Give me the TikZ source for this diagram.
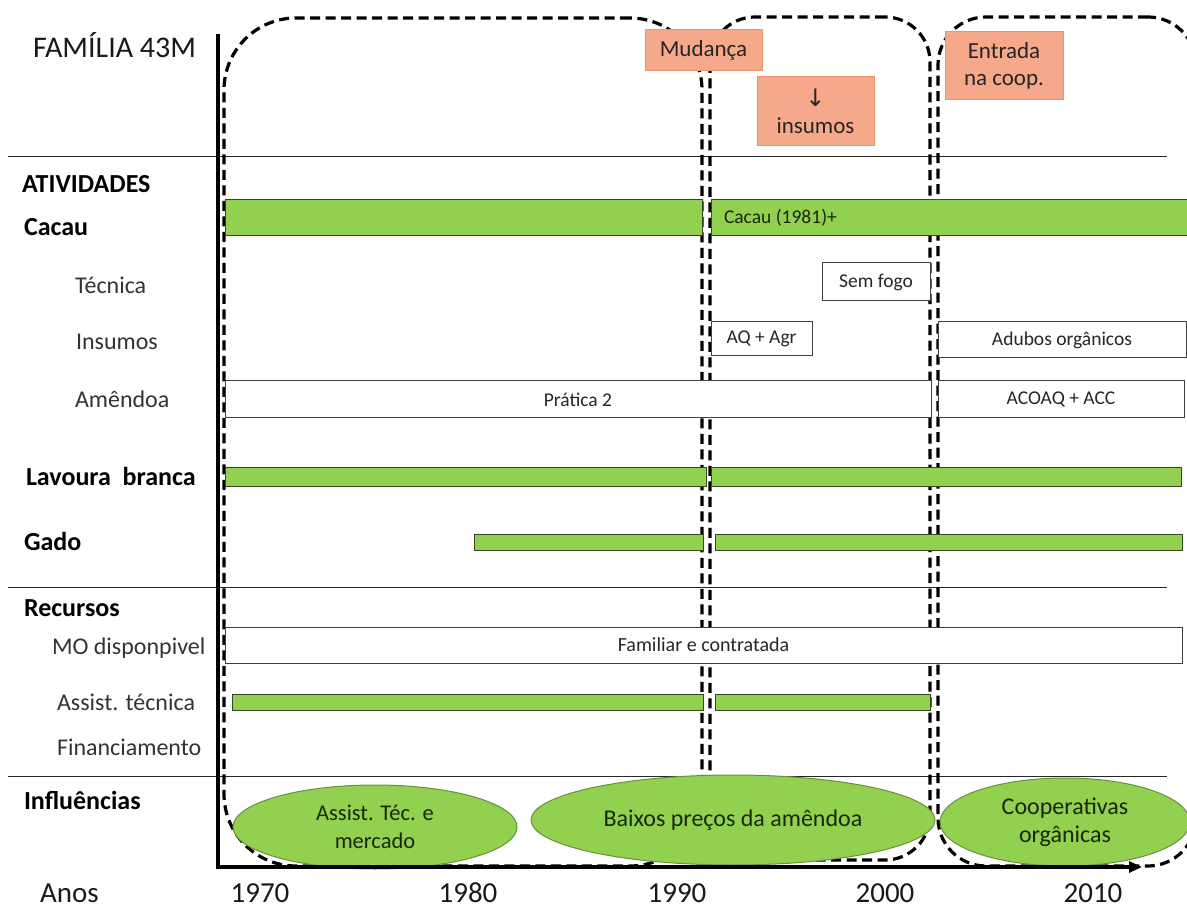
\documentclass[tikz,border=0pt]{standalone}
\usepackage{fontspec}
\setmainfont{Carlito}
\newfontfamily\arrowfont{DejaVu Sans}
\usetikzlibrary{shapes.geometric,arrows.meta}

\definecolor{bargreen}{RGB}{146,208,80}
\definecolor{baredge}{RGB}{55,70,40}
\definecolor{ellipseedge}{RGB}{105,145,60}
\definecolor{salmon}{RGB}{245,168,138}
\definecolor{salmonedge}{RGB}{236,145,105}
\definecolor{greentext}{RGB}{25,40,12}

\begin{document}
\begin{tikzpicture}[x=1pt,y=-1pt,
  every node/.style={inner sep=0pt, outer sep=0pt},
  rowline/.style={line width=0.9pt, black!85},
  phasebox/.style={draw, line width=3.2pt, dash pattern=on 10pt off 5.5pt, anchor=north west},
  axisline/.style={line width=3.2pt, black},
  greenbar/.style={draw=baredge, line width=1pt, fill=bargreen, anchor=north west},
  whitebox/.style={draw=black!75, line width=1pt, fill=white, anchor=north west,
    font=\fontsize{19.5}{22}\selectfont, text=black!85},
  bartext/.style={font=\fontsize{19.5}{22}\selectfont, text=greentext, anchor=west},
  eventbox/.style={draw=salmonedge, line width=1pt, fill=salmon, anchor=north west,
    font=\fontsize{23}{27}\selectfont, text=black!85, align=center},
  influence/.style={ellipse, draw=ellipseedge, line width=1pt, fill=bargreen,
    text=greentext, align=center},
  headlabel/.style={font=\fontsize{26}{30}\selectfont\bfseries, anchor=west, text=black},
  sublabel/.style={font=\fontsize{24}{28}\selectfont, anchor=west, text=black!80},
  yearlabel/.style={font=\fontsize{29}{32}\selectfont, text=black!90}
]
\useasboundingbox (0,0) rectangle (1187,909);

% horizontal row separators
\coordinate (sepA1) at (8,156);   \coordinate (sepA2) at (1167,156);
\coordinate (sepB1) at (8,587);   \coordinate (sepB2) at (1167,587);
\coordinate (sepC1) at (8,776);   \coordinate (sepC2) at (1167,776);
\draw[rowline] (sepA1) -- (sepA2);
\draw[rowline] (sepB1) -- (sepB2);
\draw[rowline] (sepC1) -- (sepC2);

% dashed periods
\node[phasebox, rounded corners=72pt, minimum width=478pt, minimum height=848pt] (period1) at (224,18) {};
\node[phasebox, rounded corners=45pt, minimum width=220pt, minimum height=843pt] (period2) at (710,17) {};
\node[phasebox, rounded corners=48pt, minimum width=258pt, minimum height=849pt] (period3) at (938,17) {};

% Cacau
\node[greenbar, minimum width=477pt, minimum height=36pt] (cacauA) at (225,200) {};
\node[greenbar, minimum width=478pt, minimum height=36pt,
  label={[bartext, anchor=west, xshift=13pt]west:Cacau (1981)+}] (cacauB) at (711,200) {};
% Técnica
\node[whitebox, minimum width=108pt, minimum height=38pt] (semfogo) at (822,263) {Sem fogo};
% Insumos
\node[whitebox, minimum width=101pt, minimum height=34pt] (aqagr) at (711,322) {AQ + Agr};
\node[whitebox, minimum width=248pt, minimum height=36pt] (adubos) at (938,322) {Adubos orgânicos};
% Amêndoa
\node[whitebox, minimum width=706pt, minimum height=37pt] (pratica) at (225,381) {Prática 2};
\node[whitebox, minimum width=246pt, minimum height=37pt] (acoaq) at (938,381) {ACOAQ + ACC};
% Lavoura branca
\node[greenbar, minimum width=481pt, minimum height=19pt] (lavouraA) at (225,467) {};
\node[greenbar, minimum width=470pt, minimum height=19pt] (lavouraB) at (711,467) {};
% Gado
\node[greenbar, minimum width=229pt, minimum height=16pt] (gadoA) at (474,534) {};
\node[greenbar, minimum width=467pt, minimum height=16pt] (gadoB) at (715,534) {};
% MO disponível
\node[whitebox, minimum width=957pt, minimum height=36pt, font=\fontsize{20}{23}\selectfont] (maoobra) at (225,627) {Familiar e contratada};
% Assistência técnica
\node[greenbar, minimum width=471pt, minimum height=16pt] (assistA) at (232,694) {};
\node[greenbar, minimum width=215pt, minimum height=16pt] (assistB) at (715,694) {};

% influences
\node[influence, minimum width=284pt, minimum height=84pt, font=\fontsize{22.5}{28}\selectfont] (infA) at (375,827) {Assist. Téc. e\\mercado};
\node[influence, minimum width=404pt, minimum height=90pt, font=\fontsize{24}{28}\selectfont] (infB) at (733,820) {Baixos preços da amêndoa};
\node[influence, minimum width=250pt, minimum height=88pt, font=\fontsize{24}{28}\selectfont] (infC) at (1065,822) {Cooperativas\\orgânicas};

% events
\node[eventbox, minimum width=117pt, minimum height=41pt] (mudanca) at (645,30) {Mudança};
\node[eventbox, minimum width=117pt, minimum height=69pt] (insumos) at (757,77) {{\arrowfont\fontsize{24}{26}\selectfont ↓}\\insumos};
\node[eventbox, minimum width=118pt, minimum height=68pt] (entrada) at (945,32) {Entrada\\na coop.};

% axes
\coordinate (ytop) at (218,34);
\coordinate (origin) at (218,867);
\coordinate (xend) at (1142,867);
\draw[axisline, -{Triangle[length=13pt,width=11pt]}] (ytop) -- (origin) -- (xend);

% title and row labels
\node[anchor=west, font=\fontsize{30}{34}\selectfont, text=black!90] (title) at (33,45) {FAMÍLIA 43M};
\node[headlabel] (lblativ) at (22,184) {ATIVIDADES};
\node[headlabel] (lblcacau) at (24,227) {Cacau};
\node[sublabel] (lbltec) at (75,285) {Técnica};
\node[sublabel] (lblins) at (76,342) {Insumos};
\node[sublabel] (lblame) at (75,399) {Amêndoa};
\node[headlabel] (lbllav) at (26,476) {Lavoura \ branca};
\node[headlabel] (lblgado) at (24,541) {Gado};
\node[headlabel] (lblrec) at (24,608) {Recursos};
\node[sublabel] (lblmo) at (52,648) {MO disponpivel};
\node[sublabel] (lblass) at (57,702) {Assist. técnica};
\node[sublabel] (lblfin) at (57,747) {Financiamento};
\node[headlabel] (lblinf) at (24,800) {Influências};

% years
\node[yearlabel, anchor=west] (anos) at (40,893) {Anos};
\node[yearlabel] (y1970) at (260,893) {1970};
\node[yearlabel] (y1980) at (468,893) {1980};
\node[yearlabel] (y1990) at (677,893) {1990};
\node[yearlabel] (y2000) at (885,893) {2000};
\node[yearlabel] (y2010) at (1093,893) {2010};
\end{tikzpicture}
\end{document}
